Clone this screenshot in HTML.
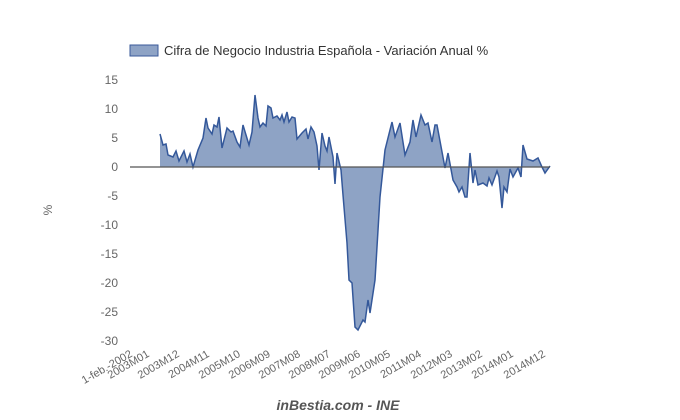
<!DOCTYPE html>
<html><head><meta charset="utf-8"><style>
body{margin:0;background:#fff;}
svg{display:block;font-family:"Liberation Sans",sans-serif;}
</style></head><body>
<svg width="680" height="420" viewBox="0 0 680 420">
<rect x="130" y="45" width="28" height="11" fill="#8ea3c5" stroke="#3a5a9a" stroke-width="1"/>
<text x="164" y="55" font-size="13" fill="#333">Cifra de Negocio Industria Española - Variación Anual %</text>
<g font-size="12" fill="#666" text-anchor="end">
<text x="118" y="84">15</text><text x="118" y="113">10</text><text x="118" y="142">5</text><text x="118" y="171">0</text>
<text x="118" y="200">-5</text><text x="118" y="229">-10</text><text x="118" y="258">-15</text><text x="118" y="287">-20</text>
<text x="118" y="316">-25</text><text x="118" y="345">-30</text>
</g>
<text x="52" y="210" font-size="12" fill="#666" text-anchor="middle" transform="rotate(-90 52 210)">%</text>
<polygon fill="#8ea3c5" stroke="none" points="160,167 160,134 163,145 166,144 168,155 173,157 176,151 179,161 184,151 187,162 190,154 193,167 198,150 203,138 206,118 208,128 212,134 214,125 217,127 219,117 222,148 227,128 231,132 233,131 237,142 240,147 243,125 246,135 249,145 252,132 255,95 258,118 260,127 263,123 266,126 268,106 271,108 273,118 277,116 280,120 282,115 284,122 287,112 289,122 292,117 295,118 297,139 302,133 306,129 308,139 311,127 314,132 317,146 319,170 322,133 325,146 327,151 329,137 333,157 335,184 337,153 341,170 343,195 347,243 349,280 352,283 355,327 358,330 363,320 365,322 368,300 370,313 375,280 380,197 385,150 392,122 395,137 400,123 405,155 410,142 413,120 416,137 421,115 425,125 428,123 432,142 435,125 437,125 445,168 448,153 453,180 457,187 459,192 462,187 465,197 467,197 470,153 473,183 475,170 478,185 483,183 487,186 489,178 492,185 497,171 499,177 502,208 504,187 507,192 510,169 513,177 518,168 521,177 523,145 527,159 533,161 538,158 542,167 545,173 550,166 550,167"/>
<polyline fill="none" stroke="#34589a" stroke-width="1.5" points="160,134 163,145 166,144 168,155 173,157 176,151 179,161 184,151 187,162 190,154 193,167 198,150 203,138 206,118 208,128 212,134 214,125 217,127 219,117 222,148 227,128 231,132 233,131 237,142 240,147 243,125 246,135 249,145 252,132 255,95 258,118 260,127 263,123 266,126 268,106 271,108 273,118 277,116 280,120 282,115 284,122 287,112 289,122 292,117 295,118 297,139 302,133 306,129 308,139 311,127 314,132 317,146 319,170 322,133 325,146 327,151 329,137 333,157 335,184 337,153 341,170 343,195 347,243 349,280 352,283 355,327 358,330 363,320 365,322 368,300 370,313 375,280 380,197 385,150 392,122 395,137 400,123 405,155 410,142 413,120 416,137 421,115 425,125 428,123 432,142 435,125 437,125 445,168 448,153 453,180 457,187 459,192 462,187 465,197 467,197 470,153 473,183 475,170 478,185 483,183 487,186 489,178 492,185 497,171 499,177 502,208 504,187 507,192 510,169 513,177 518,168 521,177 523,145 527,159 533,161 538,158 542,167 545,173 550,166"/>
<line x1="130" y1="167" x2="550" y2="167" stroke="#555" stroke-width="1.3"/>
<g font-size="11" fill="#666" text-anchor="end">
<text transform="translate(133,356) rotate(-30)">1-feb.-2002</text>
<text transform="translate(150,356) rotate(-30)">2003M01</text>
<text transform="translate(180,356) rotate(-30)">2003M12</text>
<text transform="translate(210,356) rotate(-30)">2004M11</text>
<text transform="translate(241,356) rotate(-30)">2005M10</text>
<text transform="translate(271,356) rotate(-30)">2006M09</text>
<text transform="translate(301,356) rotate(-30)">2007M08</text>
<text transform="translate(331,356) rotate(-30)">2008M07</text>
<text transform="translate(361,356) rotate(-30)">2009M06</text>
<text transform="translate(391,356) rotate(-30)">2010M05</text>
<text transform="translate(422,356) rotate(-30)">2011M04</text>
<text transform="translate(453,356) rotate(-30)">2012M03</text>
<text transform="translate(483,356) rotate(-30)">2013M02</text>
<text transform="translate(514,356) rotate(-30)">2014M01</text>
<text transform="translate(546,356) rotate(-30)">2014M12</text>
</g>
<text x="338" y="410" font-size="14" font-weight="bold" font-style="italic" fill="#555" text-anchor="middle">inBestia.com - INE</text>
</svg>
</body></html>
